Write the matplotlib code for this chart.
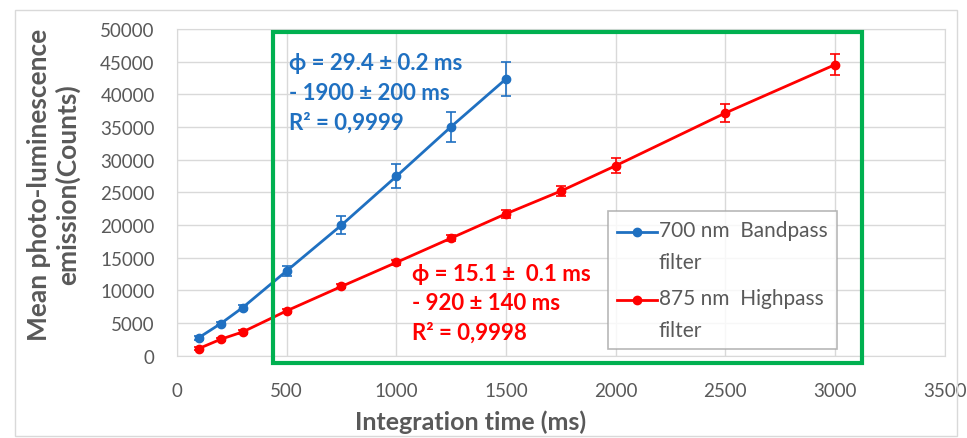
import matplotlib.pyplot as plt
from matplotlib.patches import Rectangle
from matplotlib.lines import Line2D
from matplotlib.legend_handler import HandlerLine2D

plt.rcParams['font.family'] = ['Lato', 'DejaVu Sans']

# 700 nm bandpass filter
t_blue = [100, 200, 300, 500, 750, 1000, 1250, 1500]
y_blue = [2800, 4950, 7400, 13000, 20000, 27450, 35050, 42350]
e_blue = [300, 300, 350, 750, 1400, 1850, 2300, 2600]

# 875 nm highpass filter
t_red = [100, 200, 300, 500, 750, 1000, 1250, 1500, 1750, 2000, 2500, 3000]
y_red = [1130, 2550, 3670, 6890, 10620, 14290, 18010, 21730, 25200, 29080, 37140, 44530]
e_red = [250, 250, 300, 300, 300, 400, 500, 600, 700, 1150, 1400, 1650]

x_ticks = [0, 500, 1000, 1500, 2000, 2500, 3000, 3500]
y_ticks = [0, 5000, 10000, 15000, 20000, 25000, 30000, 35000, 40000, 45000, 50000]

blue = '#1F70C1'
red = '#FF0000'
green = '#00B050'
gray_txt = '#595959'


class FirstLineHandler(HandlerLine2D):
    # put the legend line level with the first line of a two-line label
    def create_artists(self, legend, orig_handle, xdescent, ydescent, width, height, fontsize, trans):
        return super().create_artists(legend, orig_handle, xdescent, ydescent - 21,
                                      width, height, fontsize, trans)


fig = plt.figure(figsize=(9.67, 4.39), dpi=100)
ax = fig.add_axes([0.183, 0.187, 0.794, 0.745])

ax.errorbar(t_blue, y_blue, yerr=e_blue, color=blue, marker='o', markersize=6,
            linewidth=2, capsize=3.5, elinewidth=1.2, capthick=1.2, zorder=3)
ax.errorbar(t_red, y_red, yerr=e_red, color=red, marker='o', markersize=6,
            linewidth=2, capsize=3.5, elinewidth=1.2, capthick=1.2, zorder=3)

ax.set_xlim(0, 3500)
ax.set_ylim(0, 50000)
ax.set_xticks(x_ticks)
ax.set_yticks(y_ticks)
ax.tick_params(axis='both', length=0, labelsize=13.5, colors=gray_txt)
ax.tick_params(axis='x', pad=19)
ax.tick_params(axis='y', pad=16)
ax.grid(True, color='#D9D9D9', linewidth=1)
ax.set_axisbelow(True)
for s in ax.spines.values():
    s.set_color('#D9D9D9')

ax.set_xlabel('Integration time (ms)', fontsize=18, fontweight='bold', color=gray_txt, va='center')
ax.xaxis.set_label_coords(0.383, -0.2)
ax.set_ylabel('Mean photo-luminescence\nemission(Counts)', fontsize=19, fontweight='bold',
              color=gray_txt, linespacing=1.18, va='center')
ax.yaxis.set_label_coords(-0.161, 0.527)

ax.text(0.146, 0.806, 'ϕ = 29.4 ± 0.2 ms\n- 1900 ± 200 ms\nR² = 0,9999', transform=ax.transAxes,
        color=blue, fontsize=16, fontweight='bold', va='center', ha='left', linespacing=1.5)
ax.text(0.306, 0.162, 'ϕ = 15.1 ±  0.1 ms\n- 920 ± 140 ms\nR² = 0,9998', transform=ax.transAxes,
        color=red, fontsize=16, fontweight='bold', va='center', ha='left', linespacing=1.5)

handles = [Line2D([], [], color=blue, marker='o', markersize=6, linewidth=2),
           Line2D([], [], color=red, marker='o', markersize=6, linewidth=2)]
labels = ['700 nm  Bandpass\nfilter', '875 nm  Highpass\nfilter']
leg = ax.legend(handles, labels, loc='lower left', bbox_to_anchor=(0.561, 0.02), fontsize=15,
                frameon=True, fancybox=False, edgecolor='#A6A6A6', handlelength=1.9,
                handletextpad=0.1, labelspacing=0.75, borderpad=0.45, borderaxespad=0,
                labelcolor=gray_txt, handler_map={Line2D: FirstLineHandler()})
leg.get_frame().set_linewidth(1.2)
for t in leg.get_texts():
    t.set_linespacing(1.75)

# green highlight box
fig.patches.append(Rectangle((273 / 967, 1 - 364 / 439), (862 - 273) / 967, (364 - 33) / 439,
                             transform=fig.transFigure, fill=False, edgecolor=green, linewidth=3))
# chart outer border
fig.patches.append(Rectangle((15 / 967, 0.005), 0.99 - 15 / 967, 0.97,
                             transform=fig.transFigure, fill=False, edgecolor='#D9D9D9', linewidth=1))

fig.savefig('out.png', dpi=100)
